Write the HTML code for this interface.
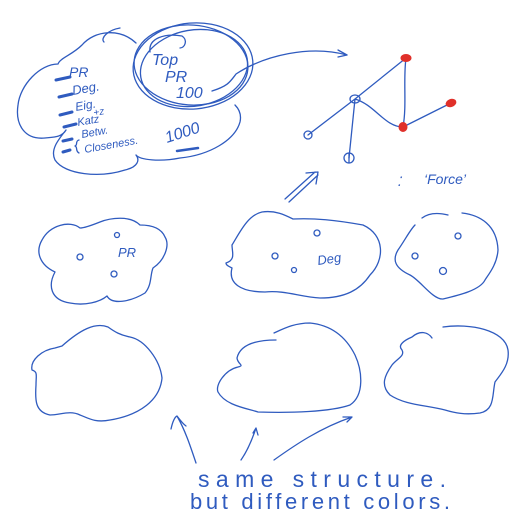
<!DOCTYPE html>
<html><head><meta charset="utf-8"><style>
html,body{margin:0;padding:0;background:#fff}
svg{display:block}
text{font-family:"Liberation Sans",sans-serif;fill:#2f5bbf;font-style:italic}
</style></head><body>
<svg width="530" height="528" viewBox="0 0 530 528" xmlns="http://www.w3.org/2000/svg">
<g fill="none" stroke="#2f5bbf" stroke-width="1.3" stroke-linecap="round" stroke-linejoin="round">
<path d="M136,43 C120,28 95,30 82,45 C72,55 60,58 58,64 C40,64 20,85 18,105 C15,125 25,140 45,138 C55,137 62,137 66,130 C58,140 50,150 55,160 C65,175 100,178 125,170 C138,167 140,160 136,155 C140,160 160,162 180,158 C210,155 235,140 240,122 C242,113 238,108 235,105"/>
<path d="M104,42 C100,38 108,30 120,28"/>
<ellipse cx="193" cy="66" rx="60" ry="43" transform="rotate(-5 193 66)"/>
<ellipse cx="191" cy="65" rx="57" ry="40" transform="rotate(4 191 65)"/>
<ellipse cx="194" cy="68" rx="54" ry="38" transform="rotate(-10 194 68)"/>
<path d="M150,52 C148,38 165,33 182,36 C188,40 185,48 180,48"/>
<path d="M212,91 C228,86 230,82 236,74 C265,55 310,45 347,55"/>
<path d="M338,50 L347,55 L338,57"/>
<path d="M56,80 L70,77 M59,97 L72,94 M60,115 L72,112 M64,127 L76,124 M63,141 L72,139 M63,152 L70,150" stroke-width="3"/>
<path d="M79,140 C75,141 78,145 75,146 C78,147 75,151 79,153"/>
<path d="M177,151 L198,148" stroke-width="2.5"/>
<path d="M355,99 L406,58 M406,58 C403,80 407,105 403,127 M355,99 C375,105 385,127 403,127 M403,127 L451,103 M355,99 L308,135 M355,99 L349,158"/>
<ellipse cx="355" cy="99" rx="5" ry="4"/>
<ellipse cx="308" cy="135" rx="4" ry="4"/>
<ellipse cx="349" cy="158" rx="5" ry="5"/>
<path d="M349,153 L349,163"/>
<path d="M285,199 L315,172 M289,202 L318,175 M306,173 L318,172 L316,184"/>
<path d="M80,228 C70,220 50,225 42,240 C35,252 40,265 55,272 C48,285 50,300 70,303 C85,306 100,302 107,296 C112,305 130,302 145,293 C152,285 150,275 153,268 C165,260 170,245 165,237 C160,225 145,225 140,225 C130,215 110,218 100,222 C95,224 85,228 80,228 Z"/>
<path d="M226,263 C236,260 232,252 232,245 C240,232 248,215 262,212 C275,210 285,215 293,219 C315,218 335,220 363,225 C385,235 385,260 370,275 C360,290 345,298 320,298 C300,297 285,290 265,292 C240,292 228,283 232,268 C228,266 226,265 226,263 Z"/>
<path d="M422,218 C430,212 440,213 448,215 M462,213 C480,215 497,225 498,250 C497,265 488,275 485,280 C480,290 460,295 443,299 C433,300 420,280 410,275 C395,268 392,260 398,250 C405,240 410,230 415,225"/>
<circle cx="80" cy="257" r="3"/><circle cx="117" cy="235" r="2.5"/><circle cx="114" cy="274" r="3"/>
<circle cx="317" cy="233" r="3"/><circle cx="275" cy="256" r="3"/><circle cx="294" cy="270" r="2.5"/>
<circle cx="458" cy="236" r="3"/><circle cx="415" cy="256" r="3"/><circle cx="443" cy="271" r="3.5"/>
<path d="M62,346 C80,330 95,322 108,327 C115,332 120,335 130,337 C145,340 160,360 162,378 C160,400 140,415 110,420 C95,423 88,418 80,415 C70,410 60,415 50,415 C35,412 35,400 36,385 C36,375 38,372 32,370 C30,360 42,350 55,348 Z"/>
<path d="M276,340 C255,340 240,345 237,358 C238,365 245,365 238,367 C225,370 215,385 218,392 C225,405 245,408 258,412 C290,413 330,412 350,405 C365,395 362,370 355,355 C345,335 330,325 310,323 C295,323 285,328 274,333"/>
<path d="M412,337 C420,330 428,332 432,338 M443,327 C470,323 505,330 508,350 C510,365 500,375 495,382 C492,395 495,410 480,413 C465,415 455,413 445,410 C425,405 405,405 390,395 C380,385 385,375 392,365 C398,358 405,356 402,350 C397,345 405,340 412,337"/>
<path d="M196,463 C190,445 185,430 177,416 M171,429 C173,420 175,417 177,416 C180,420 183,424 186,426"/>
<path d="M241,460 C248,450 252,440 256,428 M253,433 L256,428 L258,435"/>
<path d="M274,460 C295,445 320,428 352,417 M343,417 L352,417 L347,422"/>
</g>
<g fill="#e0302a" stroke="#e0302a">
<ellipse cx="406" cy="58" rx="5" ry="3.5"/>
<ellipse cx="451" cy="103" rx="5" ry="3.5" transform="rotate(-20 451 103)"/>
<ellipse cx="403" cy="127" rx="4" ry="4.5"/>
</g>
<text x="69" y="77" font-size="14">PR</text>
<text x="73" y="95" font-size="13" transform="rotate(-10 73 95)">Deg.</text>
<text x="76" y="111" font-size="12" transform="rotate(-10 76 111)">Eig.</text>
<text x="94" y="116" font-size="10" transform="rotate(-10 94 116)">+z</text>
<text x="78" y="126" font-size="11" transform="rotate(-10 78 126)">Katz</text>
<text x="82" y="138" font-size="11" transform="rotate(-10 82 138)">Betw.</text>
<text x="85" y="153" font-size="11" transform="rotate(-10 85 153)">Closeness.</text>
<text x="167" y="143" font-size="16" transform="rotate(-18 167 143)">1000</text>
<text x="152" y="65" font-size="16">Top</text>
<text x="165" y="82" font-size="16">PR</text>
<text x="176" y="98" font-size="16">100</text>
<text x="397" y="186" font-size="13">⁚</text>
<text x="424" y="184" font-size="14">‘Force’</text>
<text x="118" y="257" font-size="13">PR</text>
<text x="318" y="265" font-size="13" transform="rotate(-8 318 265)">Deg</text>
<text x="198" y="487" font-size="23" textLength="248" lengthAdjust="spacing" style="font-style:normal;font-weight:300">same structure.</text>
<text x="190" y="509" font-size="22" textLength="260" lengthAdjust="spacing" style="font-style:normal">but different colors.</text>
</svg>
</body></html>
